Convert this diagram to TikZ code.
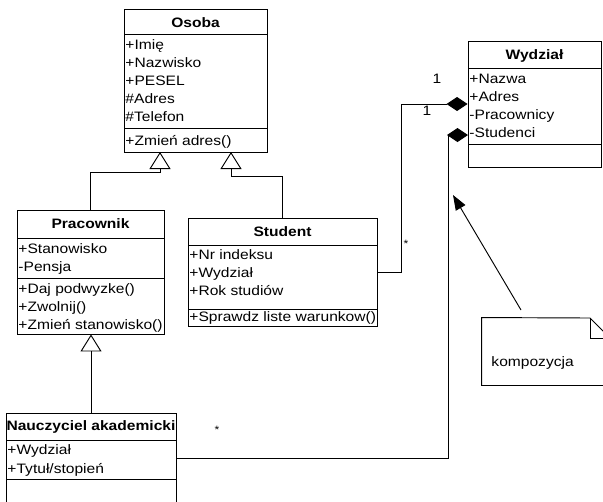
\documentclass[tikz,border=0pt]{standalone}
\usepackage{fontspec}
\setmainfont{Liberation Sans}[FakeStretch=1.14]
\usetikzlibrary{arrows.meta,fit,calc}
\begin{document}
\begin{tikzpicture}[x=0.75pt,y=-0.75pt, line width=0.7pt,
  every node/.style={font=\fontsize{10.25}{12}\selectfont, inner sep=0pt},
  classbox/.style={draw},
  txt/.style={anchor=base west},
  ttl/.style={anchor=base, font=\fontsize{10.25}{12}\selectfont\bfseries},
  inh/.style={-{Triangle[open,length=12.75pt,width=15.75pt]}},
  comp/.style={-{Diamond[length=15.75pt,width=10.5pt]}},
  lbl/.style={anchor=base},
  arr/.style={-{Triangle[length=11.25pt,width=8.25pt]}}
]
\useasboundingbox (0,0) rectangle (603,501);
\clip (0,0) rectangle (603,501);

% class boxes
\node[classbox, fit={(124,9) (267,152)}] (osoba) {};
\node[classbox, fit={(468,41) (601,167)}] (wydzial) {};
\node[classbox, fit={(17,210) (164,334)}] (pracownik) {};
\node[classbox, fit={(188,218) (377,326)}] (student) {};
\node[classbox, fit={(6,413) (176,503)}] (nauczyciel) {};

% separators
\draw (124,34) -- (267,34);
\draw (124,128) -- (267,128);
\draw (468,68) -- (601,68);
\draw (468,144) -- (601,144);
\draw (17,238) -- (164,238);
\draw (17,278) -- (164,278);
\draw (188,245) -- (377,245);
\draw (188,309) -- (377,309);
\draw (6,440) -- (176,440);
\draw (6,479) -- (176,479);

% titles
\node[ttl] (osobaT) at (195.5,27) {Osoba};
\node[ttl] (wydzialT) at (534.5,59) {Wydział};
\node[ttl] (pracownikT) at (90.5,228.5) {Pracownik};
\node[ttl] (studentT) at (282.5,236) {Student};
\node[ttl] (nauczycielT) at (91,430.5) {Nauczyciel akademicki};

% attributes and methods
\foreach \t [count=\i] in {+Imię,+Nazwisko,+PESEL,\#Adres,\#Telefon}
  \node[txt] (osobaA\i) at (125,{49+18*(\i-1)}) {\t};
\node[txt] (osobaM1) at (125,145) {+Zmień adres()};

\foreach \t [count=\i] in {+Nazwa,+Adres,-Pracownicy,-Studenci}
  \node[txt] (wydzialA\i) at (469,{83+18*(\i-1)}) {\t};

\foreach \t [count=\i] in {+Stanowisko,-Pensja}
  \node[txt] (pracownikA\i) at (18,{253+18*(\i-1)}) {\t};
\foreach \t [count=\i] in {+Daj podwyzke(),+Zwolnij(),+Zmień stanowisko()}
  \node[txt] (pracownikM\i) at (18,{293+18*(\i-1)}) {\t};

\foreach \t [count=\i] in {+Nr indeksu,+Wydział,+Rok studiów}
  \node[txt] (studentA\i) at (189,{259.5+18*(\i-1)}) {\t};
\node[txt] (studentM1) at (189,321) {+Sprawdz liste warunkow()};

\foreach \t [count=\i] in {+Wydział,+Tytuł/stopień}
  \node[txt] (nauczycielA\i) at (7,{454.5+18.5*(\i-1)}) {\t};

% inheritance
\coordinate (oL) at (160,152);
\coordinate (oR) at (231,152);
\draw[inh] (pracownik.north) |- (160,172) -- (oL);
\draw[inh] (student.north) |- (231,176) -- (oR);
\draw[inh] (nauczyciel.north) -- (nauczyciel.north |- pracownik.south);

% composition
\coordinate (wS) at (468,135);
\draw[comp] (student.east) -| (401,104) -- (wydzial.west);
\draw[comp] (nauczyciel.east) -| (448,135) -- (wS);

% multiplicities
\node[lbl] (m1) at (437,83) {1};
\node[lbl] (m2) at (427,115) {1};
\node[lbl, font=\fontsize{8}{9}\selectfont] (m3) at (406,247) {*};
\node[lbl, font=\fontsize{8}{9}\selectfont] (m4) at (217,433) {*};

% note
\node[fit={(482,318) (610,385)}] (note) {};
\draw (note.north west) -- (590,318) -- (610,338) -- (note.south east) -- (note.south west) -- cycle;
\draw (590,318) -- (590,338) -- (610,338);
\node[txt] (noteT) at (491,366) {kompozycja};
\coordinate (ns) at (521,310);
\coordinate (nt) at (453,195);
\draw[arr] (ns) -- (nt);
\end{tikzpicture}
\end{document}
